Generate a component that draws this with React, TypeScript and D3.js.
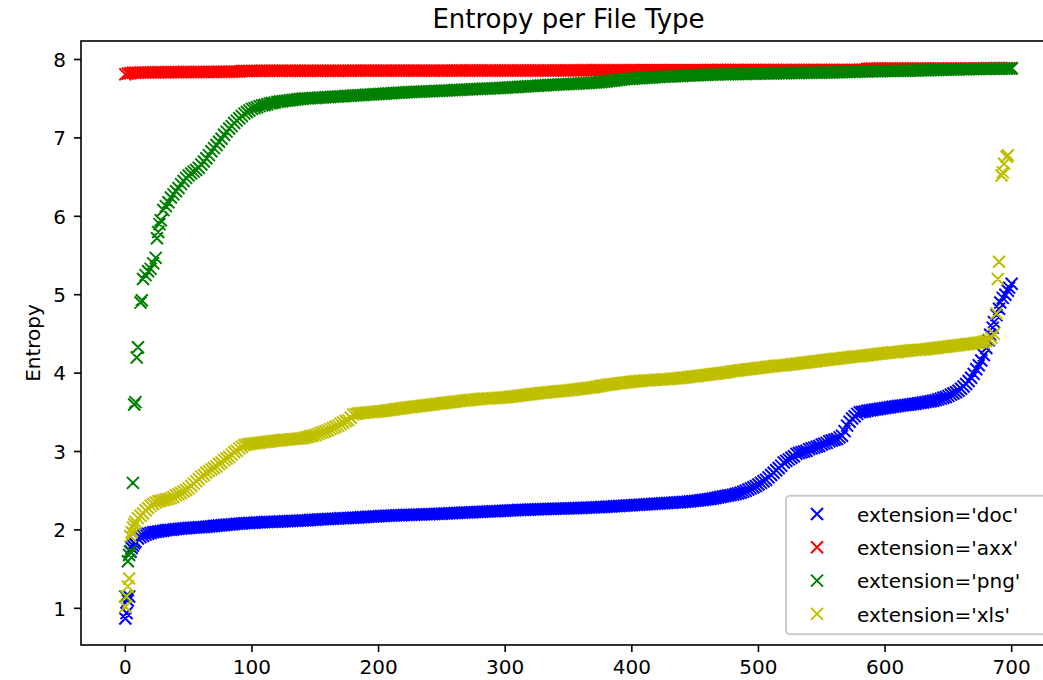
import React from "react";
import * as d3 from "d3";

// ---------- data ----------
const xTicks = [0, 100, 200, 300, 400, 500, 600, 700];
const yTicks = [1, 2, 3, 4, 5, 6, 7, 8];
const seriesLabels = ["extension='doc'", "extension='axx'", "extension='png'", "extension='xls'"];
const seriesColors = ["#0000ff", "#ff0000", "#008000", "#bfbf00"];
const STEP = 2; // index spacing of the dense "body" readings

// doc (blue)
const docHeadIdx = [0, 1, 2, 3, 4, 5, 6, 7, 8];
const docHeadVal = [0.87, 0.94, 1.1, 1.15, 1.72, 1.77, 1.8, 1.83, 1.85];
const docBodyStart = 10;
const docBody = [
  1.89, 1.91, 1.925, 1.94, 1.95, 1.96, 1.97, 1.975, 1.98, 1.985,
  1.99, 1.995, 2.0, 2.0, 2.005, 2.01, 2.013, 2.016, 2.02, 2.022,
  2.025, 2.027, 2.029, 2.031, 2.033, 2.035, 2.038, 2.041, 2.044, 2.047,
  2.05, 2.053, 2.056, 2.059, 2.062, 2.065, 2.068, 2.071, 2.074, 2.077,
  2.08, 2.082, 2.084, 2.086, 2.088, 2.09, 2.092, 2.094, 2.096, 2.098,
  2.1, 2.101, 2.102, 2.103, 2.104, 2.105, 2.107, 2.108, 2.11, 2.111,
  2.113, 2.114, 2.115, 2.117, 2.118, 2.12, 2.122, 2.124, 2.126, 2.128,
  2.13, 2.132, 2.134, 2.136, 2.138, 2.14, 2.141, 2.143, 2.144, 2.146,
  2.148, 2.149, 2.15, 2.152, 2.153, 2.155, 2.157, 2.159, 2.161, 2.163,
  2.165, 2.167, 2.169, 2.171, 2.173, 2.175, 2.177, 2.178, 2.18, 2.181,
  2.183, 2.184, 2.186, 2.187, 2.188, 2.19, 2.191, 2.192, 2.193, 2.194,
  2.195, 2.196, 2.197, 2.198, 2.199, 2.2, 2.201, 2.203, 2.204, 2.206,
  2.207, 2.209, 2.21, 2.212, 2.213, 2.215, 2.216, 2.218, 2.219, 2.221,
  2.222, 2.224, 2.225, 2.227, 2.228, 2.23, 2.231, 2.233, 2.234, 2.236,
  2.237, 2.239, 2.24, 2.242, 2.243, 2.245, 2.247, 2.248, 2.25, 2.251,
  2.253, 2.254, 2.256, 2.257, 2.258, 2.26, 2.261, 2.262, 2.263, 2.264,
  2.265, 2.266, 2.267, 2.268, 2.269, 2.27, 2.271, 2.272, 2.273, 2.274,
  2.275, 2.276, 2.277, 2.278, 2.279, 2.28, 2.281, 2.283, 2.284, 2.286,
  2.287, 2.289, 2.29, 2.292, 2.293, 2.295, 2.297, 2.299, 2.301, 2.303,
  2.305, 2.307, 2.309, 2.311, 2.313, 2.315, 2.317, 2.319, 2.321, 2.323,
  2.325, 2.327, 2.329, 2.331, 2.333, 2.335, 2.337, 2.339, 2.341, 2.343,
  2.345, 2.347, 2.349, 2.351, 2.353, 2.355, 2.358, 2.361, 2.364, 2.367,
  2.37, 2.374, 2.378, 2.382, 2.386, 2.39, 2.395, 2.4, 2.406, 2.413,
  2.42, 2.426, 2.432, 2.438, 2.444, 2.45, 2.458, 2.466, 2.474, 2.487,
  2.5, 2.515, 2.53, 2.545, 2.56, 2.58, 2.6, 2.62, 2.64, 2.67,
  2.7, 2.73, 2.76, 2.79, 2.82, 2.86, 2.88, 2.9, 2.92, 2.94,
  2.97, 2.98, 2.99, 3.0, 3.01, 3.03, 3.04, 3.05, 3.06, 3.07,
  3.09, 3.1, 3.11, 3.13, 3.14, 3.15, 3.16, 3.18, 3.2, 3.26,
  3.33, 3.38, 3.42, 3.45, 3.48, 3.5, 3.505, 3.51, 3.52, 3.525,
  3.53, 3.535, 3.54, 3.545, 3.55, 3.555, 3.56, 3.565, 3.57, 3.575,
  3.58, 3.584, 3.588, 3.592, 3.596, 3.6, 3.605, 3.61, 3.615, 3.62,
  3.625, 3.63, 3.636, 3.642, 3.648, 3.655, 3.665, 3.675, 3.685, 3.695,
  3.71, 3.725, 3.74, 3.755, 3.775, 3.8, 3.83, 3.86, 3.9, 3.94,
  3.99, 4.05, 4.1, 4.16, 4.23, 4.32,
];
const docTailIdx = [682, 683, 685, 686, 688, 690, 691, 693, 695, 697, 698, 700];
const docTailVal = [4.42, 4.49, 4.58, 4.65, 4.74, 4.82, 4.9, 4.96, 5.0, 5.05, 5.09, 5.14];

// axx (red)
const axxBodyStart = 0;
const axxBody = [
  7.81, 7.82, 7.825, 7.83, 7.83, 7.832, 7.834, 7.835, 7.835, 7.836,
  7.836, 7.836, 7.837, 7.837, 7.837, 7.838, 7.838, 7.838, 7.838, 7.839,
  7.839, 7.839, 7.839, 7.84, 7.84, 7.84, 7.84, 7.84, 7.84, 7.841,
  7.841, 7.841, 7.841, 7.842, 7.842, 7.842, 7.842, 7.843, 7.843, 7.843,
  7.843, 7.844, 7.844, 7.845, 7.845, 7.846, 7.853, 7.855, 7.855, 7.855,
  7.855, 7.855, 7.855, 7.855, 7.856, 7.856, 7.856, 7.856, 7.856, 7.856,
  7.856, 7.856, 7.856, 7.856, 7.857, 7.857, 7.857, 7.857, 7.857, 7.857,
  7.857, 7.857, 7.857, 7.857, 7.857, 7.857, 7.857, 7.857, 7.857, 7.857,
  7.857, 7.857, 7.857, 7.857, 7.857, 7.857, 7.857, 7.857, 7.857, 7.857,
  7.858, 7.858, 7.858, 7.858, 7.858, 7.858, 7.858, 7.858, 7.858, 7.858,
  7.858, 7.858, 7.858, 7.858, 7.858, 7.858, 7.858, 7.858, 7.858, 7.858,
  7.858, 7.858, 7.858, 7.858, 7.858, 7.858, 7.858, 7.858, 7.858, 7.858,
  7.858, 7.858, 7.858, 7.858, 7.858, 7.858, 7.858, 7.858, 7.858, 7.858,
  7.859, 7.859, 7.859, 7.859, 7.859, 7.859, 7.859, 7.859, 7.859, 7.859,
  7.859, 7.859, 7.859, 7.859, 7.859, 7.859, 7.859, 7.859, 7.859, 7.859,
  7.86, 7.86, 7.86, 7.86, 7.86, 7.86, 7.86, 7.86, 7.86, 7.86,
  7.86, 7.86, 7.86, 7.86, 7.86, 7.86, 7.86, 7.86, 7.86, 7.86,
  7.861, 7.861, 7.861, 7.861, 7.861, 7.861, 7.861, 7.861, 7.861, 7.861,
  7.862, 7.862, 7.862, 7.862, 7.862, 7.862, 7.862, 7.862, 7.862, 7.862,
  7.863, 7.863, 7.863, 7.863, 7.863, 7.863, 7.863, 7.863, 7.863, 7.863,
  7.864, 7.864, 7.864, 7.864, 7.864, 7.864, 7.864, 7.864, 7.864, 7.864,
  7.865, 7.865, 7.865, 7.865, 7.865, 7.865, 7.865, 7.865, 7.865, 7.865,
  7.865, 7.865, 7.865, 7.865, 7.865, 7.865, 7.865, 7.865, 7.865, 7.865,
  7.866, 7.866, 7.866, 7.866, 7.866, 7.866, 7.866, 7.866, 7.866, 7.866,
  7.866, 7.866, 7.866, 7.866, 7.866, 7.866, 7.866, 7.866, 7.866, 7.866,
  7.867, 7.867, 7.867, 7.867, 7.867, 7.867, 7.867, 7.867, 7.867, 7.867,
  7.867, 7.867, 7.867, 7.867, 7.867, 7.867, 7.867, 7.867, 7.867, 7.867,
  7.868, 7.868, 7.868, 7.868, 7.868, 7.868, 7.868, 7.868, 7.868, 7.868,
  7.868, 7.868, 7.868, 7.868, 7.868, 7.868, 7.868, 7.868, 7.868, 7.868,
  7.869, 7.87, 7.87, 7.883, 7.884, 7.885, 7.885, 7.885, 7.885, 7.885,
  7.885, 7.885, 7.885, 7.885, 7.885, 7.885, 7.885, 7.885, 7.885, 7.885,
  7.885, 7.885, 7.885, 7.885, 7.885, 7.885, 7.885, 7.885, 7.885, 7.885,
  7.886, 7.886, 7.886, 7.886, 7.886, 7.886, 7.886, 7.886, 7.886, 7.886,
  7.887, 7.887, 7.887, 7.887, 7.887, 7.887, 7.887, 7.887, 7.887, 7.887,
  7.888, 7.888, 7.888, 7.888, 7.888, 7.888, 7.888, 7.888, 7.888, 7.888,
  7.89,
];

// png (green)
const pngHeadIdx = [0, 2, 3, 4, 6, 7, 8, 9, 10, 12, 13, 14, 16, 18, 20, 22, 24, 25, 26, 27, 28, 30, 32, 34];
const pngHeadVal = [1.15, 1.6, 1.68, 1.73, 2.6, 3.6, 3.63, 4.2, 4.33, 4.9, 4.93, 5.2, 5.25, 5.3, 5.33, 5.4, 5.47, 5.72, 5.8, 5.9, 5.95, 6.08, 6.13, 6.18];
const pngBodyStart = 36;
const pngBody = [
  6.24, 6.28, 6.32, 6.36, 6.41, 6.45, 6.49, 6.52, 6.545, 6.57,
  6.59, 6.62, 6.66, 6.7, 6.74, 6.78, 6.83, 6.87, 6.91, 6.95,
  6.99, 7.04, 7.08, 7.12, 7.15, 7.19, 7.22, 7.25, 7.28, 7.31,
  7.33, 7.35, 7.37, 7.38, 7.39, 7.405, 7.415, 7.42, 7.43, 7.44,
  7.445, 7.45, 7.46, 7.465, 7.468, 7.472, 7.476, 7.48, 7.484, 7.488,
  7.492, 7.496, 7.5, 7.502, 7.504, 7.506, 7.508, 7.51, 7.512, 7.514,
  7.516, 7.518, 7.52, 7.522, 7.524, 7.526, 7.528, 7.53, 7.532, 7.534,
  7.536, 7.538, 7.54, 7.542, 7.544, 7.546, 7.548, 7.55, 7.552, 7.554,
  7.556, 7.558, 7.56, 7.562, 7.564, 7.566, 7.568, 7.57, 7.572, 7.574,
  7.576, 7.578, 7.58, 7.582, 7.584, 7.585, 7.586, 7.588, 7.589, 7.59,
  7.592, 7.593, 7.595, 7.596, 7.598, 7.599, 7.6, 7.601, 7.603, 7.604,
  7.606, 7.607, 7.61, 7.611, 7.613, 7.614, 7.616, 7.617, 7.619, 7.62,
  7.622, 7.623, 7.625, 7.626, 7.628, 7.629, 7.631, 7.632, 7.634, 7.635,
  7.637, 7.638, 7.64, 7.642, 7.644, 7.646, 7.648, 7.65, 7.652, 7.654,
  7.656, 7.658, 7.66, 7.662, 7.664, 7.666, 7.668, 7.67, 7.672, 7.674,
  7.676, 7.678, 7.68, 7.682, 7.683, 7.685, 7.686, 7.688, 7.689, 7.69,
  7.691, 7.692, 7.695, 7.697, 7.699, 7.701, 7.703, 7.705, 7.707, 7.709,
  7.712, 7.716, 7.72, 7.724, 7.728, 7.732, 7.736, 7.74, 7.744, 7.748,
  7.751, 7.753, 7.755, 7.757, 7.759, 7.761, 7.763, 7.765, 7.767, 7.769,
  7.771, 7.773, 7.775, 7.777, 7.779, 7.78, 7.782, 7.784, 7.785, 7.787,
  7.788, 7.789, 7.79, 7.792, 7.794, 7.795, 7.797, 7.798, 7.8, 7.801,
  7.802, 7.803, 7.805, 7.806, 7.807, 7.808, 7.809, 7.81, 7.811, 7.812,
  7.812, 7.813, 7.813, 7.814, 7.815, 7.815, 7.816, 7.816, 7.817, 7.818,
  7.818, 7.819, 7.82, 7.82, 7.821, 7.821, 7.822, 7.822, 7.823, 7.823,
  7.824, 7.824, 7.825, 7.825, 7.826, 7.826, 7.827, 7.827, 7.828, 7.829,
  7.829, 7.83, 7.83, 7.831, 7.831, 7.832, 7.832, 7.833, 7.833, 7.834,
  7.834, 7.835, 7.836, 7.837, 7.838, 7.838, 7.839, 7.84, 7.841, 7.842,
  7.842, 7.843, 7.845, 7.846, 7.847, 7.848, 7.849, 7.85, 7.85, 7.851,
  7.852, 7.852, 7.853, 7.853, 7.854, 7.854, 7.855, 7.855, 7.856, 7.856,
  7.857, 7.857, 7.858, 7.858, 7.859, 7.859, 7.86, 7.861, 7.862, 7.863,
  7.864, 7.865, 7.866, 7.867, 7.868, 7.869, 7.87, 7.871, 7.871, 7.872,
  7.873, 7.873, 7.874, 7.875, 7.875, 7.876, 7.877, 7.877, 7.878, 7.879,
  7.88, 7.88, 7.881, 7.881, 7.882, 7.882, 7.883, 7.883, 7.884, 7.884,
  7.884, 7.885, 7.885,
];

// xls (yellow)
const xlsHeadIdx = [0, 1, 2, 3, 4, 5, 6, 7, 8, 10, 12, 14, 16, 18, 20];
const xlsHeadVal = [1.02, 1.15, 1.28, 1.38, 1.92, 1.97, 2.03, 2.07, 2.1, 2.15, 2.18, 2.21, 2.25, 2.28, 2.31];
const xlsBodyStart = 22;
const xlsBody = [
  2.33, 2.35, 2.365, 2.372, 2.38, 2.388, 2.396, 2.405, 2.42, 2.44,
  2.455, 2.47, 2.49, 2.51, 2.53, 2.56, 2.59, 2.62, 2.65, 2.68,
  2.7, 2.73, 2.75, 2.77, 2.79, 2.81, 2.84, 2.86, 2.89, 2.91,
  2.93, 2.96, 2.99, 3.01, 3.04, 3.06, 3.08, 3.09, 3.095, 3.1,
  3.104, 3.108, 3.112, 3.116, 3.12, 3.124, 3.128, 3.132, 3.136, 3.14,
  3.143, 3.146, 3.149, 3.152, 3.155, 3.158, 3.161, 3.164, 3.167, 3.17,
  3.178, 3.186, 3.194, 3.202, 3.21, 3.222, 3.234, 3.246, 3.258, 3.27,
  3.285, 3.3, 3.315, 3.33, 3.35, 3.37, 3.39, 3.4, 3.43, 3.47,
  3.48, 3.485, 3.49, 3.493, 3.496, 3.499, 3.502, 3.505, 3.508, 3.51,
  3.514, 3.518, 3.522, 3.526, 3.531, 3.536, 3.541, 3.546, 3.551, 3.555,
  3.559, 3.563, 3.567, 3.571, 3.575, 3.579, 3.583, 3.587, 3.591, 3.595,
  3.599, 3.603, 3.607, 3.611, 3.615, 3.619, 3.623, 3.627, 3.631, 3.635,
  3.639, 3.643, 3.646, 3.65, 3.653, 3.656, 3.659, 3.663, 3.667, 3.67,
  3.672, 3.674, 3.676, 3.678, 3.68, 3.682, 3.684, 3.686, 3.688, 3.69,
  3.694, 3.698, 3.702, 3.706, 3.71, 3.714, 3.718, 3.722, 3.726, 3.73,
  3.734, 3.738, 3.742, 3.746, 3.75, 3.753, 3.756, 3.759, 3.762, 3.765,
  3.768, 3.771, 3.774, 3.777, 3.78, 3.784, 3.788, 3.792, 3.796, 3.8,
  3.804, 3.808, 3.812, 3.816, 3.82, 3.826, 3.832, 3.838, 3.844, 3.85,
  3.854, 3.858, 3.862, 3.866, 3.87, 3.874, 3.878, 3.882, 3.886, 3.89,
  3.893, 3.896, 3.899, 3.902, 3.905, 3.907, 3.909, 3.911, 3.913, 3.915,
  3.917, 3.919, 3.921, 3.923, 3.925, 3.928, 3.931, 3.934, 3.937, 3.94,
  3.944, 3.948, 3.952, 3.956, 3.96, 3.964, 3.968, 3.972, 3.976, 3.98,
  3.984, 3.988, 3.992, 3.996, 4.0, 4.004, 4.008, 4.013, 4.019, 4.025,
  4.029, 4.033, 4.037, 4.041, 4.045, 4.049, 4.053, 4.057, 4.061, 4.065,
  4.069, 4.073, 4.077, 4.081, 4.085, 4.089, 4.093, 4.096, 4.098, 4.1,
  4.104, 4.108, 4.112, 4.116, 4.12, 4.124, 4.128, 4.132, 4.136, 4.14,
  4.144, 4.148, 4.152, 4.156, 4.16, 4.164, 4.168, 4.172, 4.176, 4.18,
  4.184, 4.188, 4.192, 4.196, 4.2, 4.204, 4.208, 4.211, 4.213, 4.215,
  4.219, 4.223, 4.227, 4.231, 4.235, 4.239, 4.243, 4.247, 4.251, 4.255,
  4.259, 4.263, 4.265, 4.267, 4.27, 4.274, 4.278, 4.282, 4.286, 4.29,
  4.292, 4.294, 4.296, 4.298, 4.3, 4.304, 4.308, 4.312, 4.316, 4.32,
  4.324, 4.328, 4.332, 4.336, 4.34, 4.344, 4.348, 4.352, 4.356, 4.36,
  4.364, 4.368, 4.372, 4.376, 4.38, 4.384, 4.388, 4.394, 4.402, 4.41,
  4.43, 4.45,
];
const xlsTailIdx = [686, 688, 689, 690, 692, 693, 694, 696, 697];
const xlsTailVal = [4.5, 4.76, 5.2, 5.42, 6.52, 6.56, 6.67, 6.76, 6.78];

type Pt = [number, number];
function assemble(
  headIdx: number[], headVal: number[], bodyStart: number, body: number[],
  tailIdx: number[], tailVal: number[]
): Pt[] {
  const pts: Pt[] = [];
  headIdx.forEach((i, k) => pts.push([i, headVal[k]]));
  body.forEach((v, k) => pts.push([bodyStart + k * STEP, v]));
  tailIdx.forEach((i, k) => pts.push([i, tailVal[k]]));
  return pts;
}

const seriesPoints: Pt[][] = [
  assemble(docHeadIdx, docHeadVal, docBodyStart, docBody, docTailIdx, docTailVal),
  assemble([], [], axxBodyStart, axxBody, [], []),
  assemble(pngHeadIdx, pngHeadVal, pngBodyStart, pngBody, [], []),
  assemble(xlsHeadIdx, xlsHeadVal, xlsBodyStart, xlsBody, xlsTailIdx, xlsTailVal),
];

// ---------- chart ----------
const W = 1043;
const H = 680;
const L = 81, R = 1056, T = 41, B = 645;
const MS = 6; // marker half-size
const FONT = "'DejaVu Sans', sans-serif";

function crossPath(px: number, py: number, s: number) {
  return `M${px - s},${py - s}L${px + s},${py + s}M${px - s},${py + s}L${px + s},${py - s}`;
}

export default function App() {
  const x = d3.scaleLinear().domain([-35, 735]).range([L, R]);
  const y = d3.scaleLinear().domain([0.532, 8.236]).range([B, T]);

  const legendRows = [514, 547.3, 580.6, 613.9];

  return (
    <svg
      width={W}
      height={H}
      style={{ position: "fixed", left: 0, top: 0, background: "#fff" }}
      fontFamily={FONT}
    >
      <rect x={0} y={0} width={W} height={H} fill="#fff" />
      <defs>
        <clipPath id="axclip">
          <rect x={L} y={T} width={R - L} height={B - T} />
        </clipPath>
      </defs>

      {/* data */}
      <g clipPath="url(#axclip)">
        {seriesPoints.map((pts, si) => (
          <path
            key={si}
            d={pts.map(([i, v]) => crossPath(x(i), y(v), MS)).join("")}
            fill="none"
            stroke={seriesColors[si]}
            strokeWidth={2}
          />
        ))}
      </g>

      {/* spines */}
      <rect x={L} y={T} width={R - L} height={B - T} fill="none" stroke="#000" strokeWidth={1.6} />

      {/* y ticks */}
      {yTicks.map((t) => (
        <g key={"y" + t}>
          <line x1={L - 7} x2={L} y1={y(t)} y2={y(t)} stroke="#000" strokeWidth={1.6} />
          <text x={L - 15} y={y(t) + 7.3} fontSize={20} textAnchor="end" fill="#000">
            {t}
          </text>
        </g>
      ))}

      {/* x ticks */}
      {xTicks.map((t) => (
        <g key={"x" + t}>
          <line x1={x(t)} x2={x(t)} y1={B} y2={B + 7} stroke="#000" strokeWidth={1.6} />
          <text x={x(t)} y={B + 28.5} fontSize={20} textAnchor="middle" fill="#000">
            {t}
          </text>
        </g>
      ))}

      {/* y label */}
      <text
        transform={`translate(40, ${(T + B) / 2}) rotate(-90)`}
        fontSize={20}
        textAnchor="middle"
        fill="#000"
      >
        Entropy
      </text>

      {/* title */}
      <text x={(L + R) / 2} y={28} fontSize={26} textAnchor="middle" fill="#000">
        Entropy per File Type
      </text>

      {/* legend */}
      <g>
        <rect
          x={786}
          y={495.7}
          width={260}
          height={138.5}
          rx={4}
          fill="#fff"
          fillOpacity={0.8}
          stroke="#cccccc"
          strokeWidth={2}
        />
        {seriesLabels.map((lab, i) => (
          <g key={lab}>
            <path d={crossPath(817, legendRows[i], MS)} stroke={seriesColors[i]} strokeWidth={2} fill="none" />
            <text x={857} y={legendRows[i] + 7.7} fontSize={20} fill="#000">
              {lab}
            </text>
          </g>
        ))}
      </g>
    </svg>
  );
}
